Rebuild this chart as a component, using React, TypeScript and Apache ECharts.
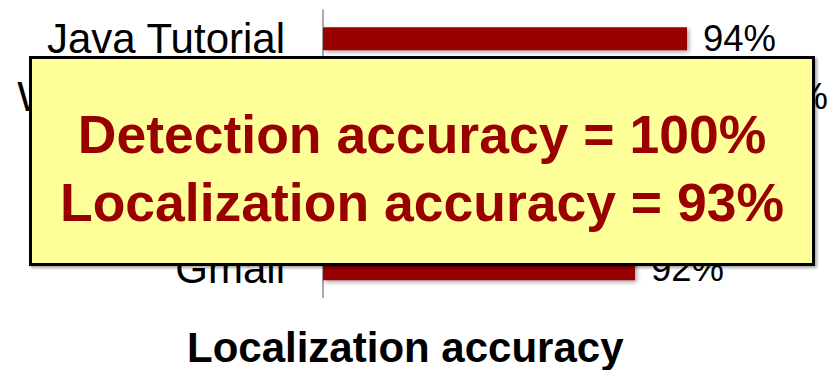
import React, { useEffect, useRef } from "react";
import * as echarts from "echarts";

const categories = ["Java Tutorial", "Wikipedia Talk", "Google Docs", "Yahoo Mail", "Gmail"];
const values = [94, 96, 92, 91, 92];
const boxLines = ["Detection accuracy = 100%", "Localization accuracy = 93%"];
const titleText = "Localization accuracy";

const FONT = "'Liberation Sans', Arial, sans-serif";

export default function App() {
  const ref = useRef<HTMLDivElement>(null);
  useEffect(() => {
    if (!ref.current) return;
    const chart = echarts.init(ref.current, undefined, { renderer: "svg" });
    chart.setOption({
      animation: false,
      backgroundColor: "#ffffff",
      title: {
        text: titleText,
        left: 187,
        top: 326,
        padding: 0,
        textStyle: { fontFamily: FONT, fontWeight: "bold", fontSize: 42, color: "#000" },
      },
      grid: {
        left: 323,
        top: 10,
        right: 47,
        bottom: 72.5,
        containLabel: false,
        outerBoundsMode: "none",
      },
      xAxis: {
        type: "value",
        min: 80,
        max: 98,
        show: false,
        splitLine: { show: false },
      },
      yAxis: {
        type: "category",
        data: categories,
        inverse: true,
        axisLine: { show: true, lineStyle: { color: "#8c8c8c", width: 1.5 } },
        axisTick: { show: false },
        axisLabel: { margin: 38, fontFamily: FONT, fontSize: 42, color: "#000" },
      },
      series: [
        {
          type: "bar",
          data: values,
          barWidth: 23,
          itemStyle: {
            color: "#990000",
            shadowColor: "rgba(0,0,0,0.35)",
            shadowBlur: 4,
            shadowOffsetX: 2,
            shadowOffsetY: 2,
          },
          label: {
            show: true,
            position: "right",
            distance: 16,
            formatter: "{c}%",
            fontFamily: FONT,
            fontSize: 36.5,
            color: "#000",
          },
        },
      ],
      graphic: [
        {
          type: "rect",
          shape: { x: 30.5, y: 57.5, width: 783, height: 207 },
          style: {
            fill: "#FFFF99",
            stroke: "#000",
            lineWidth: 3,
            shadowColor: "rgba(0,0,0,0.35)",
            shadowBlur: 3,
            shadowOffsetX: 2,
            shadowOffsetY: 2,
          },
          z: 100,
        },
        {
          type: "text",
          x: 422,
          y: 134,
          style: {
            text: boxLines[0],
            fill: "#990000",
            font: `bold 53.5px ${FONT}`,
            align: "center",
            verticalAlign: "middle",
          },
          z: 101,
        },
        {
          type: "text",
          x: 422,
          y: 202,
          style: {
            text: boxLines[1],
            fill: "#990000",
            font: `bold 53.5px ${FONT}`,
            align: "center",
            verticalAlign: "middle",
          },
          z: 101,
        },
      ],
    });
    return () => chart.dispose();
  }, []);
  return (
    <div
      ref={ref}
      style={{ position: "absolute", left: 0, top: 0, width: 838, height: 370 }}
    />
  );
}
